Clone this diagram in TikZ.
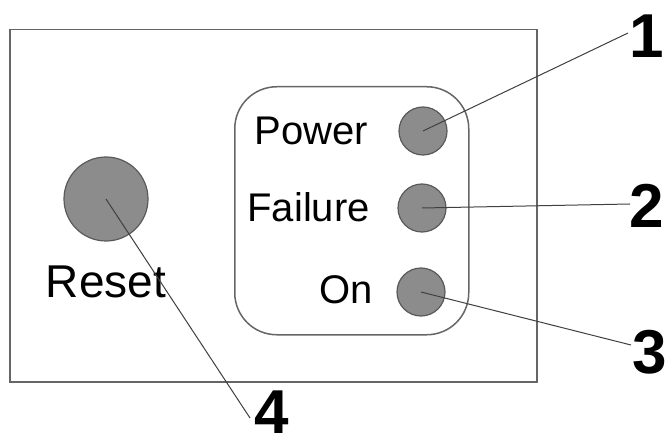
\documentclass[tikz,border=0pt]{standalone}
\usepackage{fontspec}
\setmainfont{Liberation Sans}
\begin{document}
\begin{tikzpicture}[x=1pt,y=-1pt,
  frame/.style={draw=black!60,line width=1.5pt},
  led/.style={circle,draw=black!65,fill=black!45,line width=1.2pt,inner sep=0pt,minimum size=48pt},
  lbl/.style={inner sep=0pt,font=\fontsize{40}{40}\selectfont},
  num/.style={inner sep=0pt,font=\fontsize{62}{62}\selectfont\bfseries},
  leader/.style={draw=black!75,line width=1pt}]
\useasboundingbox (0,0) rectangle (671,446);
\fill[white] (0,0) rectangle (671,446);
\node[frame,rectangle,inner sep=0pt,minimum width=527pt,minimum height=352pt,anchor=north west] (panel) at (9,29) {};
\node[frame,rectangle,rounded corners=42pt,inner sep=0pt,minimum width=234pt,minimum height=248pt,anchor=north west] (group) at (234,86) {};
\node[led] (p1) at (423,131) {};
\node[led] (p2) at (422,208) {};
\node[led] (p3) at (421,292) {};
\node[led,minimum size=84pt] (rst) at (106,199) {};
\node[lbl,anchor=base east] (tpow) at (368,145) {Power};
\node[lbl,anchor=base east] (tfail) at (370,222) {Failure};
\node[lbl,anchor=base east] (ton) at (373,303) {On};
\node[lbl,font=\fontsize{46}{46}\selectfont,anchor=base] (trst) at (106,297) {Reset};
\node[num,anchor=base] (n1) at (647,58) {1};
\node[num,anchor=base] (n2) at (647,228) {2};
\node[num,anchor=base] (n3) at (650,373) {3};
\node[num,anchor=base] (n4) at (272,433) {4};
\coordinate (e4) at (250,418);
\coordinate (e1) at (628,33);
\coordinate (e2) at (630,204);
\coordinate (e3) at (631,345);
\draw[leader] (p1.center) -- (e1);
\draw[leader] (p2.center) -- (e2);
\draw[leader] (p3.center) -- (e3);
\draw[leader] (rst.center) -- (e4);
\end{tikzpicture}
\end{document}
